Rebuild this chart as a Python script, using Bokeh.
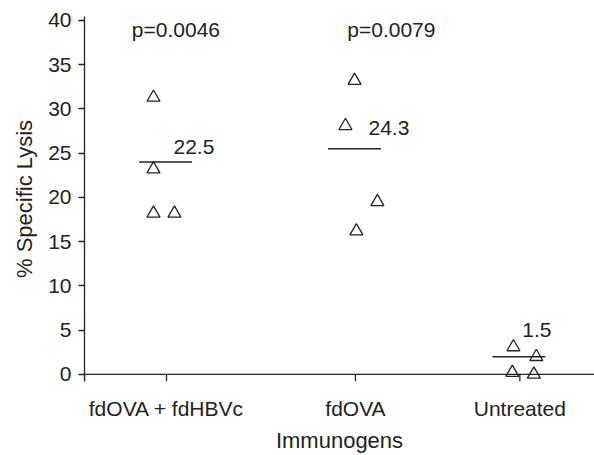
from bokeh.plotting import figure
from bokeh.models import FixedTicker, ColumnDataSource, Span
from bokeh.core.properties import value
from bokeh.embed import file_html
from bokeh.resources import INLINE

# ---- data ----
groups = ["fdOVA + fdHBVc", "fdOVA", "Untreated"]
lysis_g1 = [31.3, 23.2, 18.2, 18.2]
lysis_g2 = [33.2, 28.1, 19.5, 16.2]
lysis_g3 = [3.1, 2.0, 0.2, 0.0]
line_values = [24.0, 25.5, 2.0]
value_labels = ["22.5", "24.3", "1.5"]
p_labels = ["p=0.0046", "p=0.0079"]
y_ticks = [0, 5, 10, 15, 20, 25, 30, 35, 40]

# ---- layout positions ----
group_pos = [1.0, 2.0, 2.87]
jitter_g1 = [-0.069, -0.069, -0.069, 0.042]
jitter_g2 = [-0.005, -0.053, 0.116, 0.005]
jitter_g3 = [-0.034, 0.087, -0.040, 0.074]
label_dx = [0.037, 0.069, 0.013]
label_dy = [1.7, 2.3, 3.0]
p_dx = [0.05, 0.19]
p_y = 39.0

INK = "#222222"
FONT = "Liberation Sans"

x_start, x_end = 0.566, 3.265
y_start, y_end = -0.8, 40.45
p = figure(width=594, height=455, x_range=(x_start, x_end), y_range=(y_start, y_end),
           output_backend="svg", toolbar_location=None,
           min_border_left=84, min_border_right=0, min_border_top=16, min_border_bottom=73)
p.outline_line_color = None
p.xgrid.visible = False
p.ygrid.visible = False
p.background_fill_color = "white"

# x axis line at y = 0 with its tick marks
p.add_layout(Span(location=0, dimension="width", line_color=INK, line_width=1.3))
tick_x = [x_start] + group_pos
p.segment(x0=tick_x, y0=[0] * len(tick_x), x1=tick_x, y1=[y_start] * len(tick_x),
          line_color=INK, line_width=1.3)

xs, ys = [], []
for pos, jit, vals in zip(group_pos, [jitter_g1, jitter_g2, jitter_g3], [lysis_g1, lysis_g2, lysis_g3]):
    for j, v in zip(jit, vals):
        xs.append(pos + j)
        ys.append(v)
p.scatter(xs, ys, marker="triangle", size=13, fill_color="white", line_color=INK, line_width=1.3)

p.segment(x0=[g - 0.145 for g in group_pos], y0=line_values,
          x1=[g + 0.135 for g in group_pos], y1=line_values,
          line_color=INK, line_width=1.4)

src = ColumnDataSource(dict(x=[g + d for g, d in zip(group_pos, label_dx)],
                            y=[v + d for v, d in zip(line_values, label_dy)],
                            t=value_labels))
p.text(x="x", y="y", text="t", source=src, text_font=value(FONT), text_font_size="21px",
       text_color=INK, text_align="left", text_baseline="middle")

p.text(x=[group_pos[0] + p_dx[0], group_pos[1] + p_dx[1]], y=[p_y, p_y], text=p_labels,
       text_font=value(FONT), text_font_size="21px", text_color=INK,
       text_align="center", text_baseline="middle")

# axes
xa = p.xaxis[0]
xa.ticker = FixedTicker(ticks=group_pos)
xa.major_label_overrides = {group_pos[0]: groups[0], group_pos[1]: groups[1], group_pos[2]: groups[2]}
xa.minor_tick_line_color = None
xa.major_tick_in = 0
xa.major_tick_out = 0
xa.axis_line_color = None
xa.major_tick_line_color = None
xa.major_label_text_font = FONT
xa.major_label_text_font_size = "21px"
xa.major_label_text_color = INK
xa.major_label_standoff = 15
xa.axis_label = "Immunogens"
xa.axis_label_text_font = FONT
xa.axis_label_text_font_size = "22px"
xa.axis_label_text_font_style = "normal"
xa.axis_label_text_color = INK
xa.axis_label_standoff = 5

ya = p.yaxis[0]
ya.ticker = FixedTicker(ticks=y_ticks)
ya.minor_tick_line_color = None
ya.major_tick_in = 0
ya.major_tick_out = 6
ya.axis_line_color = INK
ya.major_tick_line_color = INK
ya.axis_line_width = 1.3
ya.major_tick_line_width = 1.3
ya.major_label_text_font = FONT
ya.major_label_text_font_size = "21px"
ya.major_label_text_color = INK
ya.major_label_standoff = 7
ya.axis_label = "% Specific Lysis"
ya.axis_label_text_font = FONT
ya.axis_label_text_font_size = "22px"
ya.axis_label_text_font_style = "normal"
ya.axis_label_text_color = INK
ya.axis_label_standoff = 8

open("out.html", "w").write(file_html(p, INLINE))
